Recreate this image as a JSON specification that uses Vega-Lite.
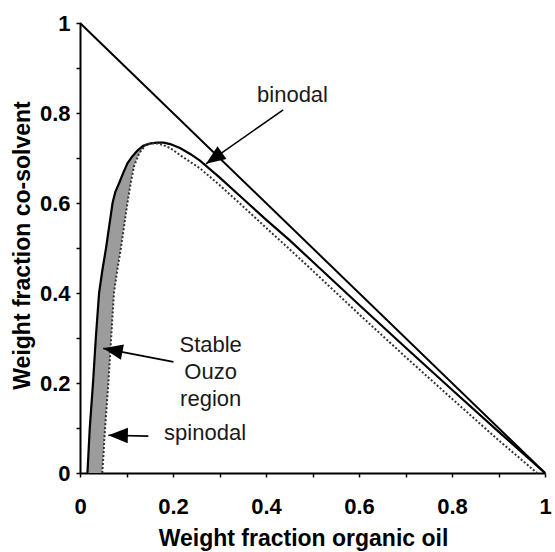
{
  "$schema": "https://vega.github.io/schema/vega-lite/v6.json",
  "width": 465,
  "height": 450,
  "autosize": "none",
  "padding": {"left": 80, "top": 23, "right": 10, "bottom": 79},
  "config": {
    "view": {"stroke": null},
    "font": "Liberation Sans",
    "axis": {
      "domain": true, "ticks": true, "grid": false,
      "domainColor": "#000", "domainWidth": 2,
      "tickSize": 4, "tickColor": "#000", "tickWidth": 1.5,
      "labelFontSize": 22, "labelFontWeight": "bold", "labelColor": "#000",
      "labelOverlap": false, "labelBound": false, "labelFlush": false,
      "titleFontSize": 23, "titleFontWeight": "bold", "titleColor": "#000",
      "titleBaseline": "alphabetic", "titleAlign": "center"
    },
    "axisX": {"labelPadding": 36, "labelBaseline": "alphabetic", "labelDx": 3, "titleX": 223, "titleY": 72},
    "axisY": {"labelPadding": 6, "labelBaseline": "middle", "labelDy": 2, "titleAngle": 270, "titleX": -51, "titleY": 222}
  },
  "datasets": {
    "band": [
      {"y": 0.0, "xl": 0.016, "xr": 0.048},
      {"y": 0.1, "xl": 0.021, "xr": 0.054},
      {"y": 0.2, "xl": 0.028, "xr": 0.061},
      {"y": 0.3, "xl": 0.034, "xr": 0.067},
      {"y": 0.4, "xl": 0.041, "xr": 0.073},
      {"y": 0.45, "xl": 0.048, "xr": 0.080},
      {"y": 0.5, "xl": 0.056, "xr": 0.088},
      {"y": 0.55, "xl": 0.063, "xr": 0.095},
      {"y": 0.6, "xl": 0.070, "xr": 0.102},
      {"y": 0.625, "xl": 0.076, "xr": 0.106},
      {"y": 0.644, "xl": 0.084, "xr": 0.109},
      {"y": 0.667, "xl": 0.093, "xr": 0.113},
      {"y": 0.688, "xl": 0.102, "xr": 0.118},
      {"y": 0.703, "xl": 0.112, "xr": 0.124},
      {"y": 0.717, "xl": 0.124, "xr": 0.132},
      {"y": 0.727, "xl": 0.136, "xr": 0.140},
      {"y": 0.733, "xl": 0.150, "xr": 0.152}
    ],
    "tie": [{"x": 0, "y": 1}, {"x": 1, "y": 0}],
    "binodal": [
      {"x": 0.016, "y": 0.0}, {"x": 0.021, "y": 0.1}, {"x": 0.028, "y": 0.2},
      {"x": 0.034, "y": 0.3}, {"x": 0.041, "y": 0.4}, {"x": 0.048, "y": 0.45},
      {"x": 0.056, "y": 0.5}, {"x": 0.063, "y": 0.55}, {"x": 0.070, "y": 0.6},
      {"x": 0.076, "y": 0.625}, {"x": 0.084, "y": 0.644}, {"x": 0.093, "y": 0.667},
      {"x": 0.102, "y": 0.688}, {"x": 0.112, "y": 0.703}, {"x": 0.124, "y": 0.717},
      {"x": 0.136, "y": 0.727}, {"x": 0.150, "y": 0.732}, {"x": 0.165, "y": 0.734},
      {"x": 0.180, "y": 0.734}, {"x": 0.194, "y": 0.731}, {"x": 0.215, "y": 0.722},
      {"x": 0.237, "y": 0.709}, {"x": 0.258, "y": 0.694}, {"x": 0.30, "y": 0.657},
      {"x": 0.35, "y": 0.610}, {"x": 0.40, "y": 0.563}, {"x": 0.45, "y": 0.518},
      {"x": 0.50, "y": 0.470}, {"x": 0.60, "y": 0.374}, {"x": 0.70, "y": 0.279},
      {"x": 0.80, "y": 0.185}, {"x": 0.90, "y": 0.092}, {"x": 1.0, "y": 0.0}
    ],
    "spinodal": [
      {"x": 0.048, "y": 0.0}, {"x": 0.054, "y": 0.1}, {"x": 0.061, "y": 0.2},
      {"x": 0.067, "y": 0.3}, {"x": 0.073, "y": 0.4}, {"x": 0.080, "y": 0.45},
      {"x": 0.088, "y": 0.5}, {"x": 0.095, "y": 0.55}, {"x": 0.102, "y": 0.6},
      {"x": 0.109, "y": 0.644}, {"x": 0.116, "y": 0.681}, {"x": 0.127, "y": 0.710},
      {"x": 0.141, "y": 0.729}, {"x": 0.155, "y": 0.733}, {"x": 0.168, "y": 0.732},
      {"x": 0.178, "y": 0.729}, {"x": 0.194, "y": 0.722}, {"x": 0.22, "y": 0.703},
      {"x": 0.258, "y": 0.677}, {"x": 0.30, "y": 0.640}, {"x": 0.35, "y": 0.593},
      {"x": 0.40, "y": 0.545}, {"x": 0.45, "y": 0.498}, {"x": 0.50, "y": 0.450},
      {"x": 0.60, "y": 0.353}, {"x": 0.70, "y": 0.258}, {"x": 0.80, "y": 0.165},
      {"x": 0.90, "y": 0.073}, {"x": 0.983, "y": 0.0}
    ],
    "arrows": [
      {"x": 0.437, "y": 0.807, "xt": 0.271, "yt": 0.687, "angle": 235},
      {"x": 0.201, "y": 0.247, "xt": 0.050, "yt": 0.277, "angle": 281},
      {"x": 0.147, "y": 0.082, "xt": 0.061, "yt": 0.084, "angle": 271}
    ],
    "labels": [
      {"x": 0.457, "y": 0.825, "text": "binodal"},
      {"x": 0.281, "y": 0.269, "text": "Stable"},
      {"x": 0.281, "y": 0.209, "text": "Ouzo"},
      {"x": 0.281, "y": 0.149, "text": "region"},
      {"x": 0.269, "y": 0.0733, "text": "spinodal"}
    ]
  },
  "layer": [
    {
      "data": {"name": "band"},
      "mark": {"type": "area", "orient": "horizontal", "color": "#9c9c9c"},
      "encoding": {
        "y": {
          "field": "y", "type": "quantitative",
          "scale": {"domain": [0, 1], "nice": false},
          "title": "Weight fraction co-solvent",
          "axis": {
            "values": [0, 0.1, 0.2, 0.3, 0.4, 0.5, 0.6, 0.7, 0.8, 0.9, 1],
            "labelExpr": "round(datum.value*10)%2==0 ? (datum.value==0 ? '0' : datum.value==1 ? '1' : format(datum.value, '.1f')) : ''"
          }
        },
        "x": {
          "field": "xl", "type": "quantitative",
          "scale": {"domain": [0, 1], "nice": false},
          "title": "Weight fraction organic oil",
          "axis": {
            "values": [0, 0.1, 0.2, 0.3, 0.4, 0.5, 0.6, 0.7, 0.8, 0.9, 1],
            "labelExpr": "round(datum.value*10)%2==0 ? (datum.value==0 ? '0' : datum.value==1 ? '1' : format(datum.value, '.1f')) : ''"
          }
        },
        "x2": {"field": "xr"}
      }
    },
    {
      "data": {"name": "tie"},
      "mark": {"type": "line", "color": "#000", "strokeWidth": 2},
      "encoding": {
        "x": {"field": "x", "type": "quantitative", "title": "Weight fraction organic oil"},
        "y": {"field": "y", "type": "quantitative", "title": "Weight fraction co-solvent"}
      }
    },
    {
      "data": {"name": "binodal"},
      "mark": {"type": "line", "color": "#000", "strokeWidth": 2.2},
      "encoding": {
        "x": {"field": "x", "type": "quantitative", "title": "Weight fraction organic oil"},
        "y": {"field": "y", "type": "quantitative", "title": "Weight fraction co-solvent"}
      }
    },
    {
      "data": {"name": "spinodal"},
      "mark": {"type": "line", "color": "#333", "strokeWidth": 2, "strokeDash": [2, 2]},
      "encoding": {
        "x": {"field": "x", "type": "quantitative", "title": "Weight fraction organic oil"},
        "y": {"field": "y", "type": "quantitative", "title": "Weight fraction co-solvent"}
      }
    },
    {
      "data": {"name": "arrows"},
      "mark": {"type": "rule", "color": "#000", "strokeWidth": 1.6},
      "encoding": {
        "x": {"field": "x", "type": "quantitative", "title": "Weight fraction organic oil"},
        "y": {"field": "y", "type": "quantitative", "title": "Weight fraction co-solvent"},
        "x2": {"field": "xt"},
        "y2": {"field": "yt"}
      }
    },
    {
      "data": {"name": "arrows"},
      "mark": {"type": "point", "shape": "M0,0L-0.8,2L0.8,2Z", "filled": true, "color": "#000", "opacity": 1, "size": 380},
      "encoding": {
        "x": {"field": "xt", "type": "quantitative", "title": "Weight fraction organic oil"},
        "y": {"field": "yt", "type": "quantitative", "title": "Weight fraction co-solvent"},
        "angle": {"field": "angle", "type": "quantitative", "scale": null}
      }
    },
    {
      "data": {"name": "labels"},
      "mark": {"type": "text", "fontSize": 22, "color": "#1a1a1a", "align": "center", "baseline": "alphabetic", "font": "Liberation Sans"},
      "encoding": {
        "x": {"field": "x", "type": "quantitative", "title": "Weight fraction organic oil"},
        "y": {"field": "y", "type": "quantitative", "title": "Weight fraction co-solvent"},
        "text": {"field": "text"}
      }
    }
  ]
}
